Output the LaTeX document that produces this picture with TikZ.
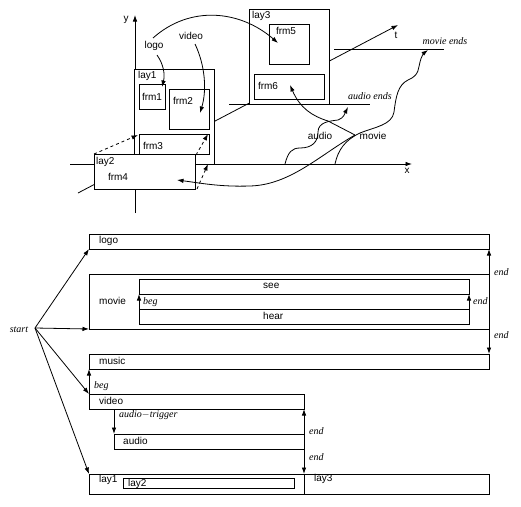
\documentclass[tikz,border=0pt]{standalone}
\usepackage{fontspec}
\setmainfont{Liberation Sans}
\newfontfamily\tms{Liberation Serif}
\usetikzlibrary{arrows.meta}
\begin{document}
\begin{tikzpicture}[x=1pt,y=-1pt,
 ln/.style={line width=0.8pt},
 box/.style={draw, line width=0.8pt, fill=white, inner sep=0pt, outer sep=0pt, anchor=north west},
 lbl/.style={font=\fontsize{10}{12}\selectfont, inner sep=0pt},
 it/.style={font=\fontsize{10}{12}\selectfont\tms\itshape, inner sep=0pt},
 arr/.style={ln, -{Latex[length=6.5pt,width=4.5pt]}},
 dsh/.style={arr, dash pattern=on 3pt off 3pt},
]
\useasboundingbox (0,0) rectangle (521,506);
% ---------- top: axes ----------
\coordinate (yb) at (135,213); \coordinate (yt) at (135,15);
\draw[arr] (yb) -- (yt);
\node[lbl] (ylab) at (126,20) {y};
\coordinate (xl) at (70,164); \coordinate (xr) at (412,164);
\draw[arr] (xl) -- (xr);
\node[lbl] (xlab) at (407,171) {x};
\coordinate (tl) at (78,193); \coordinate (tr) at (398,25);
\draw[arr] (tl) -- (tr);
\node[lbl] (tlab) at (396,35) {t};
% end lines
\coordinate (ae1) at (229,104); \coordinate (ae2) at (370,104);
\draw[ln] (ae1) -- (ae2);
\node[it] (aelab) at (370,96) {audio ends};
\coordinate (me1) at (334,49); \coordinate (me2) at (444,49);
\draw[ln] (me1) -- (me2);
\node[it] (melab) at (445,41) {movie ends};
% boxes
\node[box, minimum width=80pt, minimum height=95pt] (lay1) at (134,69) {};
\node[lbl, anchor=west] (lay1l) at (138,76) {lay1};
\node[box, minimum width=26pt, minimum height=25pt] (frm1) at (139,84) {};
\node[lbl] (frm1l) at (152,97) {frm1};
\node[box, minimum width=40pt, minimum height=40pt] (frm2) at (169,89) {};
\node[lbl] (frm2l) at (183,101) {frm2};
\node[box, minimum width=70pt, minimum height=20pt] (frm3) at (139,134) {};
\node[lbl] (frm3l) at (153,146) {frm3};
\node[box, minimum width=80pt, minimum height=95pt] (lay3) at (249,9) {};
\node[lbl, anchor=west] (lay3l) at (252,16) {lay3};
\node[box, minimum width=40pt, minimum height=40pt] (frm5) at (269,24) {};
\node[lbl] (frm5l) at (286,31) {frm5};
\node[box, minimum width=70pt, minimum height=25pt] (frm6) at (254,74) {};
\node[lbl] (frm6l) at (268,86) {frm6};
\node[box, minimum width=101pt, minimum height=35pt] (lay2) at (94,154) {};
\node[lbl, anchor=west] (lay2l) at (96,162) {lay2};
\node[lbl] (frm4l) at (118,177) {frm4};
% labels
\node[lbl] (logol) at (154,46) {logo};
\node[lbl] (videol) at (191,36) {video};
\node[lbl] (audiol) at (320,136) {audio};
\node[lbl] (moviel) at (373,136) {movie};
% curves
\coordinate (c1a) at (157,55); \coordinate (c1b) at (162,87);
\draw[arr] (c1a) .. controls (164,65) and (165,75) .. (c1b);
\coordinate (c2a) at (195,44); \coordinate (c2b) at (200,113);
\draw[arr] (c2a) .. controls (205,65) and (207,90) .. (c2b);
\coordinate (c3a) at (153,38); \coordinate (c3b) at (278,43);
\draw[arr] (c3a) .. controls (190,5) and (240,10) .. (c3b);
\coordinate (c4a) at (285,164); \coordinate (c4b) at (348,107);
\draw[arr] (c4a) .. controls (288,152) and (292,148) .. (300,148)
  .. controls (312,148) and (318,142) .. (318,132)
  .. controls (318,122) and (330,121) .. (338,120)
  .. controls (344,118) and (345,113) .. (c4b);
\coordinate (c5a) at (335,164); \coordinate (c5b) at (428,50);
\draw[arr] (c5a) .. controls (338,150) and (345,140) .. (360,133)
  .. controls (375,127) and (392,125) .. (394,112)
  .. controls (396,96) and (398,85) .. (408,80)
  .. controls (420,75) and (418,68) .. (420,62)
  .. controls (421,57) and (424,53) .. (c5b);
\coordinate (mv) at (355,135);
\coordinate (c6b) at (290,85);
\draw[arr] (mv) -- (328,121) .. controls (312,116) and (300,108) .. (c6b);
\coordinate (c7b) at (177,180);
\draw[arr] (mv) .. controls (320,155) and (290,185) .. (250,186)
  .. controls (220,187) and (200,183) .. (c7b);
% dashed
\coordinate (d1b) at (138,135);
\draw[dsh] (lay2.north west) -- (d1b);
\coordinate (d2a) at (196,155); \coordinate (d2b) at (208,134);
\draw[dsh] (d2a) -- (d2b);
\coordinate (d3a) at (197,189); \coordinate (d3b) at (208,164);
\draw[dsh] (d3a) -- (d3b);
% ---------- bottom ----------
\node[box, minimum width=400pt, minimum height=15pt] (lg) at (89,234) {};
\node[lbl, anchor=west] (lgl) at (99,241) {logo};
\node[box, minimum width=400pt, minimum height=55pt] (mvb) at (89,274) {};
\node[lbl, anchor=west] (mvl) at (99,301) {movie};
\node[box, minimum width=330pt, minimum height=15pt] (see) at (139,279) {};
\node[lbl, anchor=west] (seel) at (263,286) {see};
\node[box, minimum width=330pt, minimum height=15pt] (hear) at (139,309) {};
\node[lbl, anchor=west] (hearl) at (263,316) {hear};
\node[box, minimum width=400pt, minimum height=15pt] (mu) at (89,354) {};
\node[lbl, anchor=west] (mul) at (99,361) {music};
\node[box, minimum width=215pt, minimum height=15pt] (vd) at (89,394) {};
\node[lbl, anchor=west] (vdl) at (99,401) {video};
\node[box, minimum width=190pt, minimum height=15pt] (au) at (114,434) {};
\node[lbl, anchor=west] (aul) at (123,441) {audio};
\node[box, minimum width=400pt, minimum height=20pt] (bot) at (89,474) {};
\coordinate (divt) at (304,474); \coordinate (divb) at (304,494);
\draw[ln] (divt) -- (divb);
\node[lbl, anchor=west] (lay1b) at (99,480) {lay1};
\node[box, minimum width=171pt, minimum height=10pt] (l2b) at (123,478) {};
\node[lbl, anchor=west] (l2bl) at (128,484) {lay2};
\node[lbl, anchor=west] (l3b) at (314,479) {lay3};
% start
\node[it] (start) at (19,330) {start};
\coordinate (s) at (35,328);
\draw[arr] (s) -- (lg.south west);
\draw[arr] (s) -- (mvb.south west);
\draw[arr] (s) -- (vd.north west);
\draw[arr] (s) -- (bot.north west);
% right arrows
\draw[arr] (mvb.north east) -- (lg.south east);
\node[it, anchor=west] (e1) at (494,272) {end};
\draw[arr] (mvb.south east) -- (mu.north east);
\node[it, anchor=west] (e2) at (494,335) {end};
\draw[arr] (hear.north west) -- (see.south west);
\node[it, anchor=west] (b1) at (143,302) {beg};
\draw[arr] (hear.north east) -- (see.south east);
\node[it, anchor=west] (e3) at (473,301) {end};
\draw[arr] (vd.north west) -- (mu.south west);
\node[it, anchor=west] (b2) at (94,386) {beg};
\coordinate (at) at (114,409);
\draw[arr] (at) -- (au.north west);
\node[it, anchor=west] (atl) at (119,415) {audio$-$trigger};
\draw[arr] (au.north east) -- (vd.south east);
\node[it, anchor=west] (e4) at (309,431) {end};
\draw[arr] (au.south east) -- (divt);
\node[it, anchor=west] (e5) at (309,457) {end};
\end{tikzpicture}
\end{document}
